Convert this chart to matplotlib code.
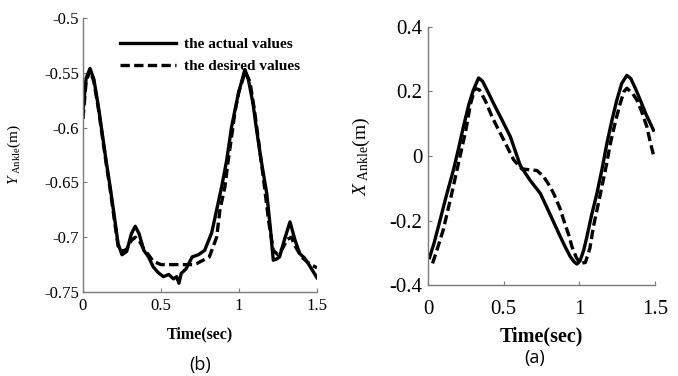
import matplotlib
matplotlib.use("Agg")
import matplotlib.pyplot as plt

plt.rcParams['font.family'] = ['Liberation Serif', 'DejaVu Serif']
plt.rcParams['mathtext.fontset'] = 'custom'
plt.rcParams['mathtext.rm'] = 'Liberation Serif'
plt.rcParams['mathtext.it'] = 'Liberation Serif:italic'
plt.rcParams['mathtext.bf'] = 'Liberation Serif:bold'

# ---------- panel (b): Y ankle ----------
t_b_actual = [0.0, 0.02, 0.045, 0.07, 0.10, 0.13, 0.15, 0.175, 0.20, 0.225, 0.25,
              0.28, 0.31, 0.335, 0.36, 0.39, 0.42, 0.45, 0.48, 0.515, 0.55, 0.58,
              0.60, 0.615, 0.63, 0.66, 0.70, 0.74, 0.78, 0.825, 0.857, 0.889,
              0.921, 0.953, 0.996, 1.038, 1.06, 1.09, 1.11, 1.14, 1.178, 1.20,
              1.22, 1.24, 1.26, 1.29, 1.327, 1.36, 1.39, 1.42, 1.444, 1.47, 1.50]
y_b_actual = [-0.585, -0.555, -0.546, -0.556, -0.582, -0.612, -0.632, -0.655,
              -0.680, -0.706, -0.716, -0.713, -0.697, -0.690, -0.697, -0.712,
              -0.718, -0.727, -0.732, -0.736, -0.734, -0.738, -0.736, -0.742,
              -0.733, -0.729, -0.718, -0.716, -0.712, -0.696, -0.675, -0.654,
              -0.630, -0.599, -0.569, -0.547, -0.556, -0.578, -0.599, -0.628,
              -0.660, -0.690, -0.721, -0.720, -0.718, -0.703, -0.686, -0.703,
              -0.715, -0.719, -0.724, -0.730, -0.737]

t_b_desired = [0.0, 0.02, 0.045, 0.07, 0.10, 0.13, 0.15, 0.175, 0.20, 0.225, 0.25,
               0.28, 0.31, 0.335, 0.36, 0.39, 0.42, 0.45, 0.50, 0.55, 0.60, 0.65,
               0.70, 0.73, 0.81, 0.857, 0.878, 0.91, 0.931, 0.953, 0.975, 1.0,
               1.04, 1.07, 1.10, 1.13, 1.16, 1.19, 1.22, 1.25, 1.28, 1.31, 1.335,
               1.36, 1.40, 1.45, 1.50]
y_b_desired = [-0.592, -0.558, -0.548, -0.558, -0.584, -0.614, -0.634, -0.657,
               -0.683, -0.708, -0.713, -0.711, -0.703, -0.700, -0.703, -0.711,
               -0.716, -0.722, -0.725, -0.725, -0.725, -0.725, -0.725, -0.724,
               -0.718, -0.700, -0.675, -0.654, -0.630, -0.608, -0.585, -0.567,
               -0.549, -0.558, -0.585, -0.617, -0.650, -0.685, -0.712, -0.716,
               -0.710, -0.702, -0.700, -0.708, -0.718, -0.724, -0.728]

# ---------- panel (a): X ankle ----------
t_a_actual = [0.01, 0.04, 0.08, 0.12, 0.168, 0.20, 0.234, 0.27, 0.30, 0.334, 0.36,
              0.40, 0.433, 0.48, 0.544, 0.61, 0.674, 0.742, 0.786, 0.83, 0.874,
              0.91, 0.94, 0.965, 0.984, 1.005, 1.03, 1.05, 1.08, 1.116, 1.15,
              1.182, 1.215, 1.248, 1.28, 1.314, 1.34, 1.37, 1.402, 1.44, 1.47, 1.49]
y_a_actual = [-0.315, -0.27, -0.198, -0.125, -0.043, 0.02, 0.091, 0.16, 0.205,
              0.242, 0.232, 0.195, 0.163, 0.12, 0.06, -0.03, -0.075, -0.116,
              -0.16, -0.205, -0.25, -0.285, -0.312, -0.328, -0.335, -0.325,
              -0.29, -0.25, -0.185, -0.116, -0.04, 0.039, 0.11, 0.174, 0.225,
              0.25, 0.24, 0.21, 0.174, 0.13, 0.10, 0.08]

t_a_desired = [0.03, 0.06, 0.10, 0.157, 0.20, 0.25, 0.28, 0.31, 0.34, 0.38, 0.42,
               0.455, 0.50, 0.566, 0.62, 0.676, 0.72, 0.764, 0.80, 0.83, 0.87,
               0.896, 0.93, 0.951, 0.98, 1.006, 1.04, 1.07, 1.093, 1.12, 1.149,
               1.18, 1.205, 1.24, 1.27, 1.295, 1.314, 1.35, 1.38, 1.41, 1.446,
               1.47, 1.49]
y_a_desired = [-0.333, -0.29, -0.23, -0.116, -0.025, 0.08, 0.16, 0.21, 0.205,
               0.17, 0.125, 0.091, 0.05, -0.012, -0.04, -0.043, -0.045, -0.064,
               -0.09, -0.116, -0.16, -0.198, -0.245, -0.281, -0.315, -0.333,
               -0.33, -0.285, -0.219, -0.16, -0.095, -0.025, 0.039, 0.11, 0.163,
               0.20, 0.21, 0.195, 0.174, 0.14, 0.091, 0.04, 0.003]

xticks = [0, 0.5, 1, 1.5]
xtick_labels = ['0', '0.5', '1', '1.5']
yticks_b = [-0.75, -0.7, -0.65, -0.6, -0.55, -0.5]
ytick_labels_b = ['-0.75', '-0.7', '-0.65', '-0.6', '-0.55', '-0.5']
yticks_a = [-0.4, -0.2, 0, 0.2, 0.4]
ytick_labels_a = ['-0.4', '-0.2', '0', '0.2', '0.4']

legend_labels = ['the actual values', 'the desired values']

fig = plt.figure(figsize=(6.78, 3.76), dpi=100)
ax_b = fig.add_axes([0.1224, 0.2234, 0.3451, 0.7287])
ax_a = fig.add_axes([0.6313, 0.2420, 0.3348, 0.6862])

spine_col = '#7a7a7a'
dash = (2.8, 1.3)

def style(ax, tick_fs, pad_y, pad_x):
    for s in ['top', 'right']:
        ax.spines[s].set_visible(False)
    for s in ['left', 'bottom']:
        ax.spines[s].set_color(spine_col)
        ax.spines[s].set_linewidth(1.0)
    ax.tick_params(axis='both', direction='in', length=3, width=0.8,
                   color=spine_col, labelsize=tick_fs, labelcolor='black')
    ax.tick_params(axis='y', pad=pad_y)
    ax.tick_params(axis='x', pad=pad_x)
    ax.set_xlim(0, 1.5)
    ax.set_xticks(xticks)
    ax.set_xticklabels(xtick_labels)

# panel (b)
l1, = ax_b.plot(t_b_actual, y_b_actual, color='black', lw=2.4,
                solid_joinstyle='round')
l2, = ax_b.plot(t_b_desired, y_b_desired, color='black', lw=2.4,
                linestyle=(0, dash))
style(ax_b, 12, 3, 4)
ax_b.set_ylim(-0.75, -0.5)
ax_b.set_yticks(yticks_b)
ax_b.set_yticklabels(ytick_labels_b)
ax_b.set_xlabel('Time(sec)', fontsize=11.5, fontweight='bold', labelpad=9)
ax_b.set_ylabel(r'$Y_{\ \mathrm{Ankle}}$(m)', fontsize=11)
ax_b.yaxis.set_label_coords(-0.255, 0.5)
leg = ax_b.legend([l1, l2], legend_labels, loc='upper left',
                  bbox_to_anchor=(0.158, 0.93), frameon=False,
                  prop={'family': 'Liberation Serif', 'weight': 'bold', 'size': 11},
                  handlelength=3.7, handletextpad=0.5, labelspacing=0.55,
                  borderpad=0, borderaxespad=0)

# panel (a)
ax_a.plot(t_a_actual, y_a_actual, color='black', lw=2.4, solid_joinstyle='round')
ax_a.plot(t_a_desired, y_a_desired, color='black', lw=2.4, linestyle=(0, dash))
style(ax_a, 15, 4, 11)
ax_a.set_ylim(-0.4, 0.4)
ax_a.set_yticks(yticks_a)
ax_a.set_yticklabels(ytick_labels_a)
ax_a.set_xlabel('Time(sec)', fontsize=14.5, fontweight='bold', labelpad=5)
ax_a.set_ylabel(r'$X_{\ \mathrm{Ankle}}$(m)', fontsize=14)
ax_a.yaxis.set_label_coords(-0.245, 0.5)

# captions
fig.text(200 / 678, 1 - 365 / 376, '(b)', ha='center', va='center',
         fontsize=13, family=['Open Sans', 'DejaVu Sans'])
fig.text(535 / 678, 1 - 358 / 376, '(a)', ha='center', va='center',
         fontsize=13, family=['Open Sans', 'DejaVu Sans'])

fig.savefig('out.png', dpi=100)
